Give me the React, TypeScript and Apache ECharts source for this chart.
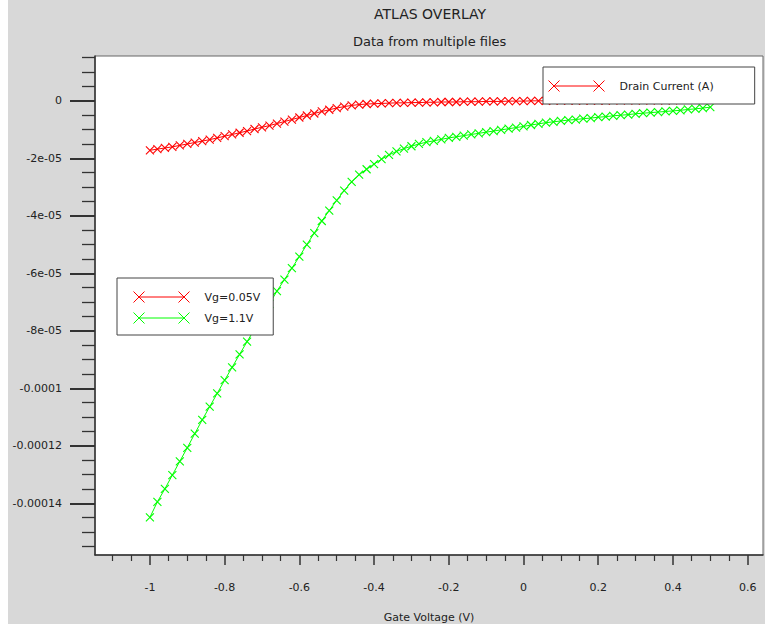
import React, { useEffect, useRef } from "react";
import * as echarts from "echarts";

// Gate voltage sweep (V)
const gateVoltage = [
  -1.0, -0.98, -0.96, -0.94, -0.92, -0.9, -0.88, -0.86, -0.84, -0.82,
  -0.8, -0.78, -0.76, -0.74, -0.72, -0.7, -0.68, -0.66, -0.64, -0.62,
  -0.6, -0.58, -0.56, -0.54, -0.52, -0.5, -0.48, -0.46, -0.44, -0.42,
  -0.4, -0.38, -0.36, -0.34, -0.32, -0.3, -0.28, -0.26, -0.24, -0.22,
  -0.2, -0.18, -0.16, -0.14, -0.12, -0.1, -0.08, -0.06, -0.04, -0.02,
  0.0, 0.02, 0.04, 0.06, 0.08, 0.1, 0.12, 0.14, 0.16, 0.18,
  0.2, 0.22, 0.24, 0.26, 0.28, 0.3, 0.32, 0.34, 0.36, 0.38,
  0.4, 0.42, 0.44, 0.46, 0.48, 0.5,
];

// Drain current (A), Vg = 0.05 V
const drainVg005 = [
  -1.72e-5, -1.68e-5, -1.64e-5, -1.6e-5, -1.55e-5, -1.5e-5, -1.45e-5, -1.4e-5, -1.35e-5, -1.29e-5,
  -1.23e-5, -1.17e-5, -1.11e-5, -1.05e-5, -0.98e-5, -0.92e-5, -0.86e-5, -0.79e-5, -0.72e-5, -0.65e-5,
  -0.58e-5, -0.51e-5, -0.44e-5, -0.37e-5, -0.31e-5, -0.25e-5, -0.2e-5, -0.16e-5, -0.13e-5, -0.11e-5,
  -0.1e-5, -0.09e-5, -0.08e-5, -0.07e-5, -0.07e-5, -0.06e-5, -0.06e-5, -0.05e-5, -0.05e-5, -0.04e-5,
  -0.04e-5, -0.04e-5, -0.03e-5, -0.03e-5, -0.03e-5, -0.02e-5, -0.02e-5, -0.02e-5, -0.01e-5, -0.01e-5,
  -0.01e-5, 0, 0, 0, 0.01e-5, 0.01e-5, 0.01e-5, 0.01e-5, 0.01e-5, 0.01e-5,
  0.01e-5, 0.01e-5, 0.02e-5, 0.02e-5, 0.02e-5, 0.02e-5, 0.02e-5, 0.02e-5, 0.02e-5, 0.02e-5,
  0.02e-5, 0.03e-5, 0.03e-5, 0.03e-5, 0.03e-5, 0.03e-5,
];

// Drain current (A), Vg = 1.1 V
const drainVg11 = [
  -14.49e-5, -13.95e-5, -13.5e-5, -13.02e-5, -12.54e-5, -12.07e-5, -11.58e-5, -11.1e-5, -10.64e-5, -10.18e-5,
  -9.72e-5, -9.27e-5, -8.82e-5, -8.38e-5, -7.94e-5, -7.5e-5, -7.06e-5, -6.62e-5, -6.22e-5, -5.82e-5,
  -5.42e-5, -5.0e-5, -4.6e-5, -4.18e-5, -3.82e-5, -3.46e-5, -3.12e-5, -2.82e-5, -2.57e-5, -2.38e-5,
  -2.2e-5, -2.03e-5, -1.88e-5, -1.76e-5, -1.66e-5, -1.58e-5, -1.5e-5, -1.44e-5, -1.39e-5, -1.34e-5,
  -1.29e-5, -1.25e-5, -1.21e-5, -1.17e-5, -1.13e-5, -1.09e-5, -1.05e-5, -1.01e-5, -0.97e-5, -0.93e-5,
  -0.89e-5, -0.84e-5, -0.8e-5, -0.76e-5, -0.73e-5, -0.7e-5, -0.67e-5, -0.65e-5, -0.62e-5, -0.6e-5,
  -0.57e-5, -0.55e-5, -0.52e-5, -0.5e-5, -0.48e-5, -0.45e-5, -0.43e-5, -0.41e-5, -0.39e-5, -0.37e-5,
  -0.35e-5, -0.33e-5, -0.3e-5, -0.28e-5, -0.25e-5, -0.22e-5,
];

const seriesNames = ["Vg=0.05V", "Vg=1.1V"];
const legendTopName = "Drain Current (A)";

const xMajorTicks = [-1, -0.8, -0.6, -0.4, -0.2, 0, 0.2, 0.4, 0.6];
const xTickLabels = ["-1", "-0.8", "-0.6", "-0.4", "-0.2", "0", "0.2", "0.4", "0.6"];
const xMinorTicks = [
  -1.1, -1.05, -0.95, -0.9, -0.85, -0.75, -0.7, -0.65, -0.55, -0.5, -0.45,
  -0.35, -0.3, -0.25, -0.15, -0.1, -0.05, 0.05, 0.1, 0.15, 0.25, 0.3, 0.35,
  0.45, 0.5, 0.55,
];

const yMajorTicks = [0, -2e-5, -4e-5, -6e-5, -8e-5, -1e-4, -1.2e-4, -1.4e-4];
const yTickLabels = ["0", "-2e-05", "-4e-05", "-6e-05", "-8e-05", "-0.0001", "-0.00012", "-0.00014"];
const yMinorTicks = [
  1.5e-5, 1e-5, 5e-6, -5e-6, -1e-5, -1.5e-5, -2.5e-5, -3e-5, -3.5e-5, -4.5e-5,
  -5e-5, -5.5e-5, -6.5e-5, -7e-5, -7.5e-5, -8.5e-5, -9e-5, -9.5e-5, -1.05e-4,
  -1.1e-4, -1.15e-4, -1.25e-4, -1.3e-4, -1.35e-4, -1.45e-4, -1.5e-4, -1.55e-4,
];

const FONT = "'DejaVu Sans', 'Liberation Sans', sans-serif";
const RED = "#ff0000";
const GREEN = "#00ff00";
const CROSS = "path://M0,0L10,10M10,0L0,10";
const LEGEND_ICON = "path://M0,0L11,11M11,0L0,11M45,0L56,11M56,0L45,11M5.5,5.5L50.5,5.5M66,5.5";

function lookup(ticks: number[], labels: string[], v: number, tol: number) {
  const i = ticks.findIndex((t) => Math.abs(t - v) < tol);
  return i >= 0 ? labels[i] : "";
}

export default function App() {
  const ref = useRef<HTMLDivElement>(null);

  useEffect(() => {
    if (!ref.current) return;
    const chart = echarts.init(ref.current, undefined, { renderer: "svg" });

    const lineSeries = (name: string, color: string, values: number[]) => ({
      type: "line",
      name,
      data: values.length ? gateVoltage.map((v, i) => [v, values[i]]) : [],
      symbol: CROSS,
      symbolSize: 8,
      showAllSymbol: true,
      lineStyle: { color, width: 1 },
      itemStyle: { color, borderColor: color, borderWidth: 1.1 },
      emphasis: { disabled: true },
      silent: true,
      z: 2,
    });

    const axisLineStyle = { color: "#333", width: 1.5 };

    chart.setOption({
      animation: false,
      backgroundColor: "#d8d8d8",
      textStyle: { fontFamily: FONT },
      title: [
        {
          text: "ATLAS OVERLAY",
          left: 366,
          top: 7,
          padding: 0,
          textStyle: { fontSize: 14, fontWeight: "normal", color: "#222", fontFamily: FONT },
        },
        {
          text: "Data from multiple files",
          left: 345,
          top: 35,
          padding: 0,
          textStyle: { fontSize: 13, fontWeight: "normal", color: "#222", fontFamily: FONT },
        },
      ],
      grid: {
        left: 87,
        right: 2,
        top: 56,
        bottom: 69,
        containLabel: false,
        outerBoundsMode: "none",
        show: true,
        backgroundColor: "#ffffff",
        borderColor: "#666",
        borderWidth: 1,
      },
      legend: [
        {
          data: [{ name: legendTopName, itemStyle: { color: RED, borderColor: RED, borderWidth: 1 } }],
          icon: LEGEND_ICON,
          left: 535,
          top: 67,
          orient: "vertical",
          padding: [13, 41, 12, 5],
          itemWidth: 66,
          itemHeight: 11,
          backgroundColor: "#ffffff",
          borderColor: "#444",
          borderWidth: 1,
          selectedMode: false,
          textStyle: { fontSize: 11, color: "#222", fontFamily: FONT },
          z: 10,
        },
        {
          data: [
            { name: seriesNames[0], itemStyle: { color: RED, borderColor: RED, borderWidth: 1 } },
            { name: seriesNames[1], itemStyle: { color: GREEN, borderColor: GREEN, borderWidth: 1 } },
          ],
          icon: LEGEND_ICON,
          left: 109,
          top: 278,
          orient: "vertical",
          padding: [13, 13, 11, 16],
          itemGap: 9,
          itemWidth: 66,
          itemHeight: 11,
          backgroundColor: "#ffffff",
          borderColor: "#444",
          borderWidth: 1,
          selectedMode: false,
          textStyle: { fontSize: 11, color: "#222", fontFamily: FONT },
          z: 10,
        },
      ],
      xAxis: [
        {
          type: "value",
          gridIndex: 0,
          position: "bottom",
          min: -1.147,
          max: 0.641,
          name: "Gate Voltage (V)",
          nameLocation: "middle",
          nameGap: 57,
          nameTextStyle: { fontSize: 11, color: "#222", fontFamily: FONT },
          axisLine: { show: true, onZero: false, lineStyle: axisLineStyle },
          axisTick: { show: true, customValues: xMajorTicks, length: 10, lineStyle: { color: "#333", width: 1.5 } },
          axisLabel: {
            show: true,
            customValues: xMajorTicks,
            formatter: (v: number) => lookup(xMajorTicks, xTickLabels, v, 1e-9),
            fontSize: 11,
            color: "#222",
            margin: 27,
            fontFamily: FONT,
          },
          splitLine: { show: false },
        },
        {
          type: "value",
          gridIndex: 0,
          position: "bottom",
          min: -1.147,
          max: 0.641,
          axisLine: { show: false, onZero: false },
          axisTick: { show: true, customValues: xMinorTicks, length: 6, lineStyle: { color: "#333", width: 1.2 } },
          axisLabel: { show: false },
          splitLine: { show: false },
        },
      ],
      yAxis: [
        {
          type: "value",
          gridIndex: 0,
          position: "left",
          min: -0.000158,
          max: 0.0000156,
          axisLine: { show: true, onZero: false, lineStyle: axisLineStyle },
          axisTick: { show: true, customValues: yMajorTicks, length: 25, lineStyle: { color: "#333", width: 2 } },
          axisLabel: {
            show: true,
            customValues: yMajorTicks,
            formatter: (v: number) => lookup(yMajorTicks, yTickLabels, v, 1e-12),
            fontSize: 11,
            color: "#222",
            margin: 33,
            padding: [10, 0, 0, 0],
            fontFamily: FONT,
          },
          splitLine: { show: false },
        },
        {
          type: "value",
          gridIndex: 0,
          position: "left",
          min: -0.000158,
          max: 0.0000156,
          axisLine: { show: false, onZero: false },
          axisTick: { show: true, customValues: yMinorTicks, length: 13, lineStyle: { color: "#333", width: 1.3 } },
          axisLabel: { show: false },
          splitLine: { show: false },
        },
      ],
      series: [
        { ...lineSeries(seriesNames[0], RED, drainVg005), xAxisIndex: 0, yAxisIndex: 0 },
        { ...lineSeries(seriesNames[1], GREEN, drainVg11), xAxisIndex: 0, yAxisIndex: 0 },
        { ...lineSeries(legendTopName, RED, []), xAxisIndex: 0, yAxisIndex: 0 },
      ],
    });

    return () => {
      chart.dispose();
    };
  }, []);

  return (
    <div
      ref={ref}
      style={{ position: "absolute", left: 8, top: 0, width: 757, height: 624 }}
    />
  );
}
